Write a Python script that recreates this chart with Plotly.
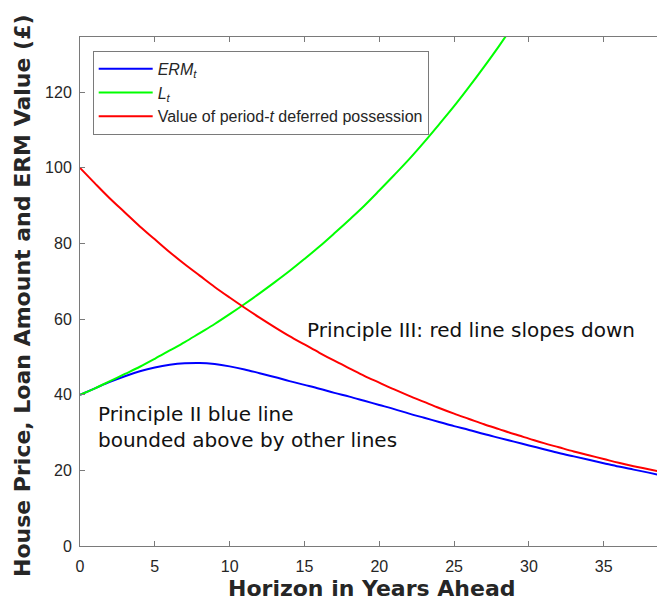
import plotly.graph_objects as go

# Horizon (years)
years = [0, 1, 2, 3, 4, 5, 6, 7, 8, 9, 10, 11, 12, 13, 14, 15, 16, 17, 18, 19,
         20, 21, 22, 23, 24, 25, 26, 27, 28, 29, 30, 31, 32, 33, 34, 35, 36, 37, 38, 38.6]

# ERM_t (blue)
erm = [40.0, 41.7, 43.4, 44.9, 46.2, 47.2, 47.9, 48.3, 48.4, 48.1, 47.5, 46.7, 45.7, 44.7,
       43.6, 42.6, 41.6, 40.5, 39.5, 38.4, 37.3, 36.2, 35.0, 33.9, 32.8, 31.7, 30.7, 29.6,
       28.6, 27.6, 26.6, 25.6, 24.6, 23.7, 22.8, 21.9, 21.0, 20.2, 19.4, 18.9]

# L_t (green) - leaves the chart at the top
loan_years = [0, 1, 2, 3, 4, 5, 6, 7, 8, 9, 10, 11, 12, 13, 14, 15, 16, 17, 18, 19,
              20, 21, 22, 23, 24, 25, 26, 27, 28, 29]
loan = [40.0, 41.7, 43.6, 45.5, 47.4, 49.5, 51.7, 53.9, 56.3, 58.7, 61.3, 64.0, 66.8, 69.7,
        72.7, 75.9, 79.2, 82.7, 86.3, 90.0, 94.0, 98.1, 102.3, 106.8, 111.5, 116.3, 121.4,
        126.7, 132.2, 138.0]

# Value of period-t deferred possession (red)
deferred = [100.0, 95.9, 91.9, 88.2, 84.5, 81.1, 77.7, 74.5, 71.5, 68.5, 65.7, 63.0, 60.4,
            57.9, 55.5, 53.3, 51.1, 49.0, 47.0, 45.0, 43.2, 41.4, 39.7, 38.1, 36.5, 35.0,
            33.6, 32.2, 30.9, 29.6, 28.4, 27.2, 26.1, 25.0, 24.0, 23.0, 22.0, 21.1, 20.3, 19.8]

x_ticks = [0, 5, 10, 15, 20, 25, 30, 35]
y_ticks = [0, 20, 40, 60, 80, 100, 120]

names = ["<i>ERM</i><sub><i>t</i></sub>", "<i>L</i><sub><i>t</i></sub>",
         "Value of period-<i>t</i> deferred possession"]

AX = "#7a7a7a"
TXT = "#262626"

fig = go.Figure()
fig.add_trace(go.Scatter(x=years, y=erm, mode="lines", name=names[0], legendgroup="a",
                         line=dict(color="#0000ff", width=2, shape="spline")))
fig.add_trace(go.Scatter(x=loan_years, y=loan, mode="lines", name=names[1], legendgroup="b",
                         line=dict(color="#00ff00", width=2, shape="spline")))
fig.add_trace(go.Scatter(x=years, y=deferred, mode="lines", name=names[2], legendgroup="c",
                         line=dict(color="#ff0000", width=2, shape="spline")))

fig.update_layout(
    width=657, height=606,
    margin=dict(l=80, r=0, t=37, b=60, autoexpand=False),
    paper_bgcolor="white", plot_bgcolor="white",
    font=dict(family="Liberation Sans, Arial, sans-serif", size=16, color=TXT),
    showlegend=True,
    legend=dict(x=0.022, y=0.973, xanchor="left", yanchor="top",
                bgcolor="white", bordercolor=AX, borderwidth=1,
                font=dict(family="Liberation Sans, Arial, sans-serif", size=16, color=TXT),
                tracegroupgap=0, itemwidth=54),
    xaxis=dict(range=[0, 38.56], tickvals=x_ticks, ticktext=[str(v) for v in x_ticks],
               automargin=False,
               showgrid=False, zeroline=False, showline=True, linecolor=AX, linewidth=1,
               mirror="ticks", ticks="inside", ticklen=5, tickcolor=AX,
               tickfont=dict(size=16, color=TXT), ticklabelstandoff=6),
    yaxis=dict(range=[0, 134.6], tickvals=y_ticks, ticktext=[str(v) for v in y_ticks],
               automargin=False,
               showgrid=False, zeroline=False, showline=True, linecolor=AX, linewidth=1,
               ticks="inside", ticklen=5, tickcolor=AX,
               tickfont=dict(size=16, color=TXT), ticklabelstandoff=4),
    annotations=[
        dict(text="Horizon in Years Ahead", xref="paper", yref="paper",
             x=(372 - 80) / 577, y=-(588 - 546) / 509, xanchor="center", yanchor="middle",
             showarrow=False,
             font=dict(family="DejaVu Sans", size=22, color=TXT, weight="bold")),
        dict(text="House Price, Loan Amount and ERM Value (£)", xref="paper", yref="paper",
             x=-(80 - 22) / 577, y=(546 - 296) / 509, xanchor="center", yanchor="middle",
             textangle=-90, showarrow=False,
             font=dict(family="DejaVu Sans", size=22, color=TXT, weight="bold")),
        dict(text="Principle III: red line slopes down", xref="x", yref="y",
             x=15.05, y=57.1, xanchor="left", yanchor="middle", showarrow=False,
             font=dict(family="DejaVu Sans", size=20, color="#111111")),
        dict(text="Principle II blue line<br>bounded above by other lines", xref="x", yref="y",
             x=1.05, y=31.6, xanchor="left", yanchor="middle", align="left", showarrow=False,
             font=dict(family="DejaVu Sans", size=20, color="#111111")),
    ],
)

fig.write_html("out.html",
               config={"displayModeBar": False},
               post_script="document.body.style.margin='0';document.body.style.padding='0';")
